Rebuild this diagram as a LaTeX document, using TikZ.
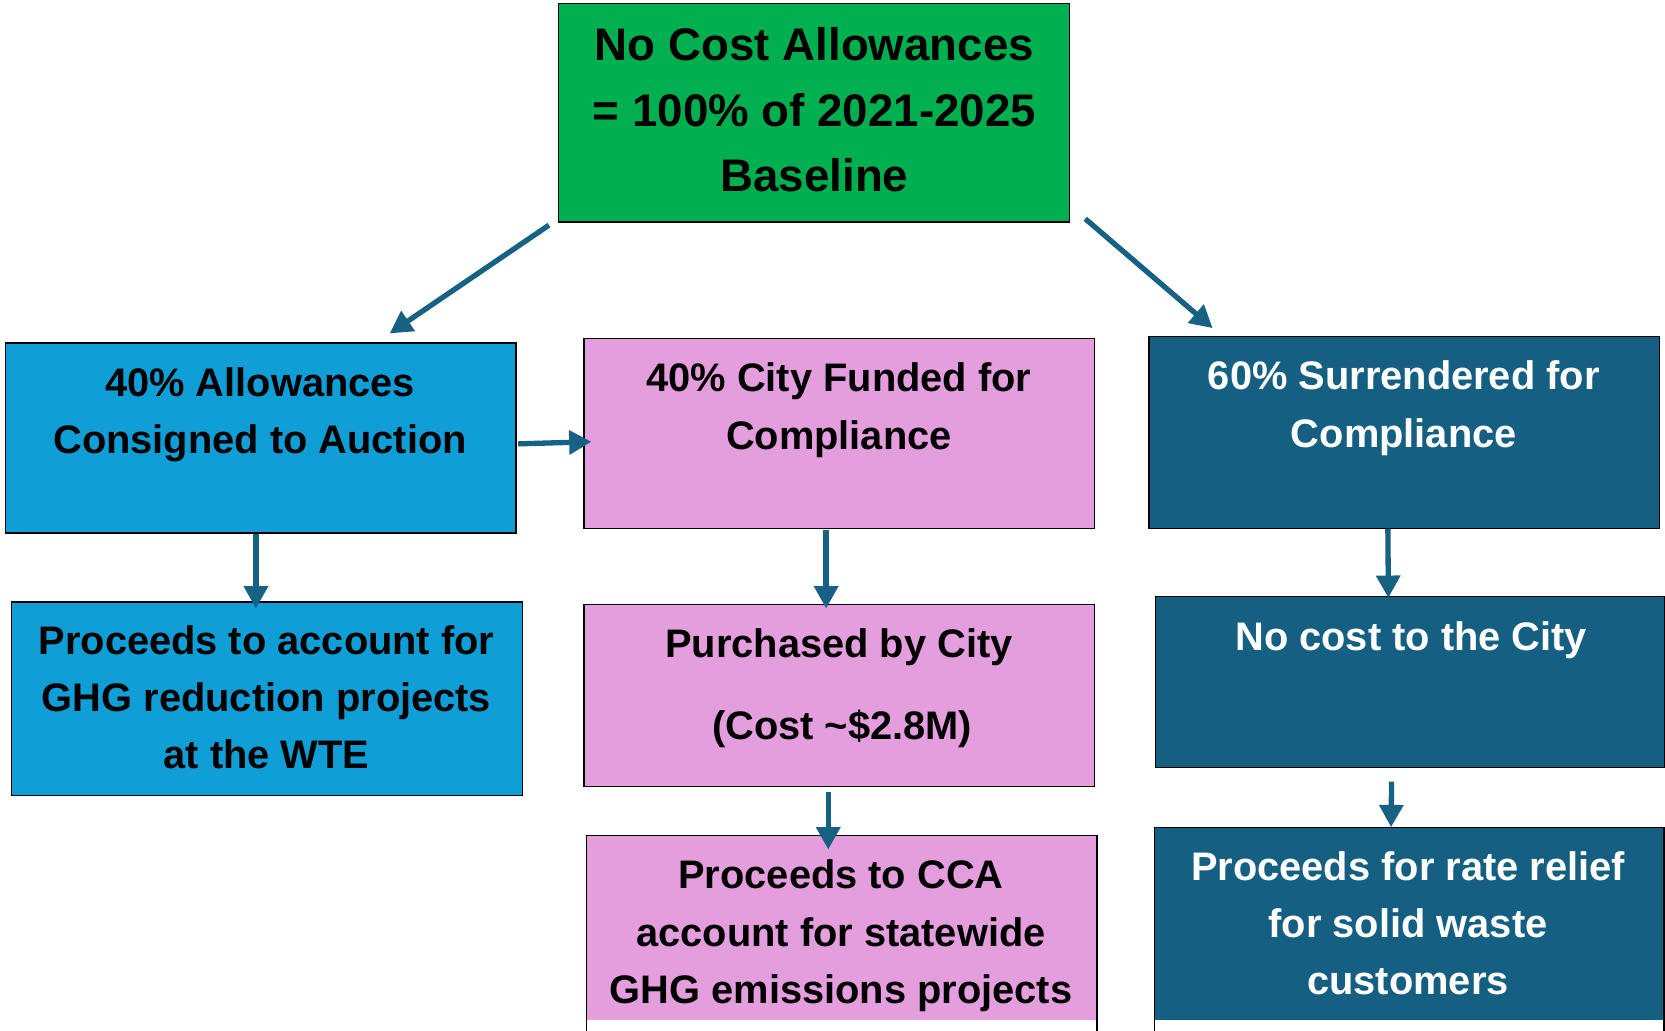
\documentclass[tikz,border=0pt]{standalone}
\usepackage{fontspec}
\setmainfont{Liberation Sans}
\usetikzlibrary{arrows.meta,calc}
\definecolor{cgreen}{HTML}{00B050}
\definecolor{clblue}{HTML}{0F9ED5}
\definecolor{cpink}{HTML}{E49EDD}
\definecolor{cdblue}{HTML}{156082}
\definecolor{carrow}{HTML}{176185}
\tikzset{
  box/.style={draw=black, line width=1.2pt, inner sep=0pt, outer sep=0pt, anchor=north west},
  bigtxt/.style={anchor=base, inner sep=0pt, font=\fontsize{43}{50}\selectfont\bfseries},
  txt/.style={anchor=base, inner sep=0pt, font=\fontsize{37.5}{43}\selectfont\bfseries},
  wtxt/.style={txt, text=white},
  conn/.style={draw=carrow, line width=5pt, -{Triangle[length=21pt,width=22pt]}},
}
\begin{document}
\begin{tikzpicture}[x=1pt,y=-1pt]
\useasboundingbox (0,0) rectangle (1568,970);
\clip (0,0) rectangle (1568,970);
% boxes
\node[box, fill=cgreen, minimum width=481pt, minimum height=206pt] (top) at (526,3) {};
\node[box, fill=clblue, minimum width=481pt, minimum height=179pt] (A) at (5,323) {};
\node[box, fill=cpink, minimum width=481pt, minimum height=179pt] (B) at (550,319) {};
\node[box, fill=cdblue, minimum width=481pt, minimum height=181pt] (C) at (1082,317) {};
\node[box, fill=clblue, minimum width=481pt, minimum height=182pt] (D) at (11,567) {};
\node[box, fill=cpink, minimum width=481pt, minimum height=172pt] (E) at (550,569) {};
\node[box, fill=cdblue, minimum width=480pt, minimum height=161pt] (F) at (1088,562) {};
\node[box, fill=white, minimum width=481pt, minimum height=200pt,
  path picture={\fill[cpink] (path picture bounding box.north west) rectangle ($(path picture bounding box.north east)+(0,174)$);}] (G) at (552,787) {};
\node[box, fill=white, minimum width=480pt, minimum height=200pt,
  path picture={\fill[cdblue] (path picture bounding box.north west) rectangle ($(path picture bounding box.north east)+(0,182)$);}] (H) at (1087,779) {};
% texts
\node[bigtxt] (top1) at (767,57) {No Cost Allowances};
\node[bigtxt] (top2) at (767,119) {= 100\% of 2021-2025};
\node[bigtxt] (top3) at (767,180) {Baseline};
\node[txt] (A1) at (245,373) {40\% Allowances};
\node[txt] (A2) at (245,427) {Consigned to Auction};
\node[txt] (B1) at (790,369) {40\% City Funded for};
\node[txt] (B2) at (790,423) {Compliance};
\node[wtxt] (C1) at (1322,367) {60\% Surrendered for};
\node[wtxt] (C2) at (1322,421) {Compliance};
\node[txt] (D1) at (251,616) {Proceeds to account for};
\node[txt] (D2) at (251,670) {GHG reduction projects};
\node[txt] (D3) at (251,724) {at the WTE};
\node[txt] (E1) at (790,619) {Purchased by City};
\node[txt] (E2) at (793,696) {(Cost \textasciitilde\$2.8M)};
\node[wtxt] (F1) at (1329,613) {No cost to the City};
\node[txt] (G1) at (792,837) {Proceeds to CCA};
\node[txt] (G2) at (792,891) {account for statewide};
\node[txt] (G3) at (792,945) {GHG emissions projects};
\node[wtxt] (H1) at (1326,829) {Proceeds for rate relief};
\node[wtxt] (H2) at (1326,883) {for solid waste};
\node[wtxt] (H3) at (1326,937) {customers};
% connectors
\draw[conn] ($(top.south west)+(-9,3)$) -- ($(A.north)+(121.5,-9)$);
\draw[conn] ($(top.south east)+(15,-3)$) -- ($(C.north west)+(60,-8)$);
\draw[conn] ($(A.east)+(2,5.5)$) -- ($(B.west)+(7,7.5)$);
\draw[conn] ($(A.south)+(-4.5,1)$) -- ($(D.north)+(-10.5,6)$);
\draw[conn] ($(B.south)+(-12.5,1)$) -- ($(E.north)+(-12.5,4)$);
\draw[conn] ($(C.south)+(-15.5,0)$) -- ($(F.north)+(-20.5,1)$);
\draw[conn] ($(E.south)+(-10.5,5)$) -- ($(G.north)+(-12.5,13)$);
\draw[conn] ($(F.south)+(-17.5,13)$) -- ($(H.north)+(-17,0)$);
\end{tikzpicture}
\end{document}
